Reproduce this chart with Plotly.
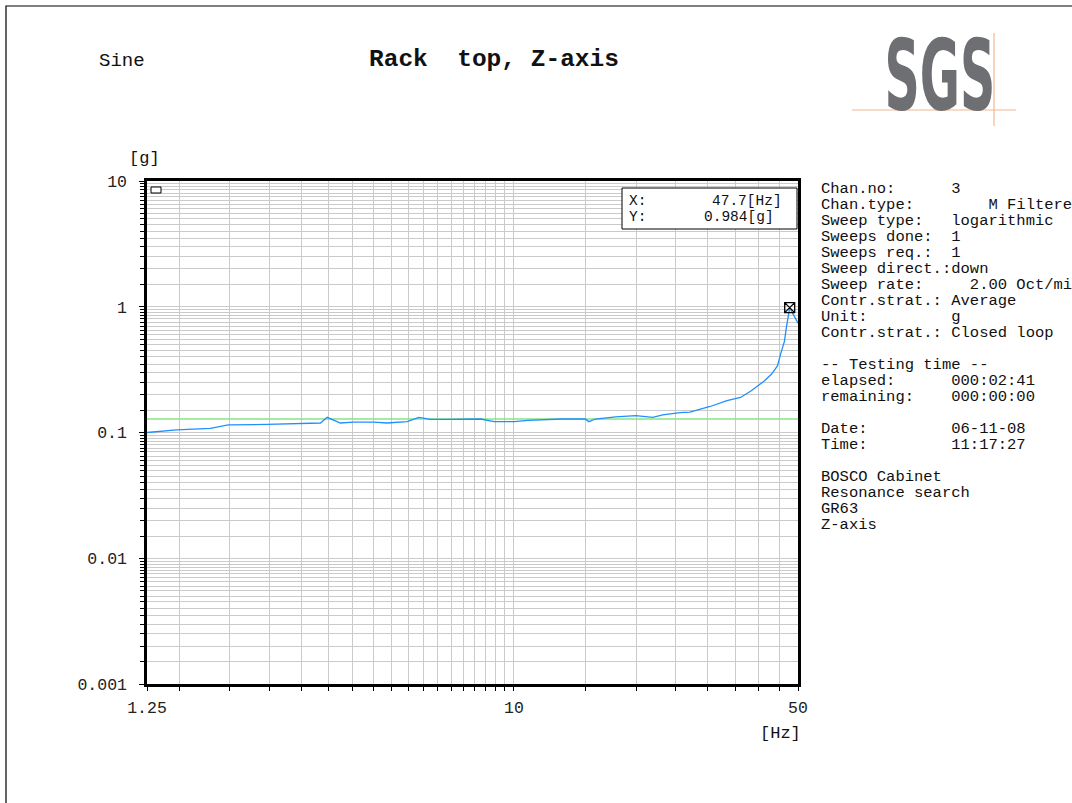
import plotly.graph_objects as go
import numpy as np

# ---------------- data ----------------
freq_hz = [1.25, 1.48, 1.79, 1.98, 2.47, 2.98, 3.34, 3.47, 3.74, 4.03, 4.52, 4.87,
           5.46, 5.83, 6.23, 6.85, 7.67, 8.27, 8.94, 10.03, 10.82, 13.1, 14.98,
           15.28, 15.86, 17.79, 19.94, 21.95, 23.24, 25.59, 27.1, 30.39, 33.43,
           36.09, 38.21, 41.23, 43.0, 44.5, 45.4, 46.3, 46.8, 47.7, 50.0]
accel_g = [0.100, 0.105, 0.108, 0.115, 0.116, 0.118, 0.119, 0.132, 0.119, 0.121,
           0.121, 0.119, 0.122, 0.132, 0.127, 0.127, 0.128, 0.128, 0.122, 0.122,
           0.125, 0.128, 0.128, 0.122, 0.128, 0.133, 0.136, 0.132, 0.138, 0.144,
           0.145, 0.161, 0.179, 0.190, 0.213, 0.256, 0.290, 0.338, 0.430, 0.530,
           0.680, 0.984, 0.740]
ref_freq = [1.25, 50.0]
ref_level = [0.128, 0.128]
cursor_freq = [47.7]
cursor_value = [0.984]

x_tickvals = [1.25, 10, 50]
x_ticktext = ["1.25", "10", "50"]
x_minor = [1.5, 2, 2.5, 3, 3.5, 4, 4.5, 5, 5.5, 6, 6.5, 7, 7.5, 8, 8.5, 9, 9.5,
           15, 20, 25, 30, 35, 40, 45]
y_tickvals = [0.001, 0.01, 0.1, 1, 10]
y_ticktext = ["0.001", "0.01", "0.1", "1", "10"]
y_minor_mult = [1.5, 2, 2.5, 3, 3.5, 4, 4.5, 5, 5.5, 6, 6.5, 7, 7.5, 8, 8.5, 9, 9.5]
y_minor = [d * m for d in [0.001, 0.01, 0.1, 1] for m in y_minor_mult]

info_lines = [
    ("Chan.no:", "3"),
    ("Chan.type:", "    M Filtered"),
    ("Sweep type:", "logarithmic"),
    ("Sweeps done:", "1"),
    ("Sweeps req.:", "1"),
    ("Sweep direct.:", "down"),
    ("Sweep rate:", "  2.00 Oct/min"),
    ("Contr.strat.:", "Average"),
    ("Unit:", "g"),
    ("Contr.strat.:", "Closed loop"),
    None,
    ("-- Testing time --", ""),
    ("elapsed:", "000:02:41"),
    ("remaining:", "000:00:00"),
    None,
    ("Date:", "06-11-08"),
    ("Time:", "11:17:27"),
    None,
    ("BOSCO Cabinet", ""),
    ("Resonance search", ""),
    ("GR63", ""),
    ("Z-axis", ""),
]

# ---------------- layout helpers ----------------
W, H = 1072, 803
L, R, T, B = 147, 798, 181, 684   # plot area in pixels
def px(x):
    return (x - L) / (R - L)
def py(y):
    return (B - y) / (B - T)

MONO = "Liberation Mono, Courier New, monospace"
NB = "\u00a0"

fig = go.Figure()
fig.add_trace(go.Scatter(x=ref_freq, y=ref_level, mode="lines",
                         line=dict(color="#86e486", width=1.6),
                         hoverinfo="skip", showlegend=False))
fig.add_trace(go.Scatter(x=freq_hz, y=accel_g, mode="lines",
                         line=dict(color="#1f8fff", width=1.3),
                         showlegend=False))
fig.add_trace(go.Scatter(x=cursor_freq, y=cursor_value, mode="markers",
                         marker=dict(symbol="square-x-open", size=10,
                                     color="black", line=dict(width=1.3)),
                         showlegend=False))

grid_col = "#cacaca"
fig.update_xaxes(type="log", range=[np.log10(1.25), np.log10(50)],
                 tickmode="array", tickvals=x_tickvals, ticktext=x_ticktext,
                 ticks="outside", ticklen=4, tickcolor="black",
                 showgrid=True, gridcolor=grid_col, gridwidth=1,
                 showline=True, linecolor="black", linewidth=2.5, mirror=True,
                 zeroline=False, ticklabelstandoff=2,
                 minor=dict(tickmode="array", tickvals=x_minor, ticks="outside",
                            ticklen=4, tickcolor="black", showgrid=True,
                            gridcolor=grid_col, gridwidth=1),
                 tickfont=dict(family=MONO, size=16.5, color="#222"))
fig.update_yaxes(type="log", range=[-3, 1],
                 tickmode="array", tickvals=y_tickvals, ticktext=y_ticktext,
                 ticks="outside", ticklen=5, tickcolor="black",
                 showgrid=True, gridcolor=grid_col, gridwidth=1,
                 showline=True, linecolor="black", linewidth=2.5, mirror=True,
                 zeroline=False, ticklabelstandoff=9,
                 minor=dict(tickmode="array", tickvals=y_minor, ticks="outside",
                            ticklen=4, tickcolor="black", showgrid=True,
                            gridcolor=grid_col, gridwidth=1),
                 tickfont=dict(family=MONO, size=16.5, color="#222"))

annots = []
def txt(x, y, s, size=15.5, anchor="left", bold=False, color="#111", family=MONO):
    annots.append(dict(x=px(x), y=py(y), xref="paper", yref="paper",
                       text=("<b>%s</b>" % s) if bold else s,
                       showarrow=False, xanchor=anchor, yanchor="middle",
                       font=dict(family=family, size=size, color=color)))

# header
txt(97, 61, "Sine", size=19)
txt(494, 60, "Rack" + NB * 2 + "top, Z-axis", size=24.5, anchor="center", bold=True)
txt(940, 76, "SGS", size=98, anchor="center", bold=True, color="#6e6f72",
    family="DejaVu Sans, Liberation Sans, sans-serif")

# axis units
txt(144, 158, "[g]", size=17, anchor="center")
txt(780, 733, "[Hz]", size=17, anchor="center")

# cursor box text
txt(627, 201, "X:", size=14.5)
txt(710, 201, "47.7[Hz]", size=14.5)
txt(627, 217, "Y:", size=14.5)
txt(702, 217, "0.984[g]", size=14.5)

# info panel
y0 = 189
for i, line in enumerate(info_lines):
    if line is None:
        continue
    k, v = line
    if v:
        s = k + NB * max(0, 14 - len(k)) + v
    else:
        s = k
    s = s.replace(" ", NB)
    txt(819, y0 + 16 * i, s, size=15.5)

shapes = [
    dict(type="rect", xref="paper", yref="paper", x0=px(622), x1=px(797),
         y0=py(188), y1=py(229), line=dict(color="black", width=1),
         fillcolor="white", layer="above"),
    dict(type="rect", xref="paper", yref="paper", x0=px(151), x1=px(161),
         y0=py(187), y1=py(193), line=dict(color="black", width=1),
         fillcolor="white", layer="above"),
    dict(type="rect", xref="paper", yref="paper", x0=px(6), x1=px(1090),
         y0=py(6), y1=py(820), line=dict(color="black", width=1.2)),
    dict(type="line", xref="paper", yref="paper", x0=px(852), x1=px(1016),
         y0=py(110), y1=py(110), line=dict(color="#f0b890", width=1.2)),
    dict(type="line", xref="paper", yref="paper", x0=px(994), x1=px(994),
         y0=py(33), y1=py(126), line=dict(color="#f0b890", width=1.2)),
]

fig.update_layout(width=W, height=H, autosize=False,
                  margin=dict(l=L, r=W - R, t=T, b=H - B, pad=0),
                  paper_bgcolor="white", plot_bgcolor="white",
                  annotations=annots, shapes=shapes, showlegend=False)

post = """
document.body.style.margin = '0';
document.body.style.overflow = 'hidden';
var gd = document.getElementById('{plot_id}');
function fixLogo(){
  gd.querySelectorAll('text.annotation-text').forEach(function(t){
    if (t.textContent === 'SGS') {
      t.style.transformBox = 'fill-box';
      t.style.transformOrigin = 'center';
      t.style.transform = 'scaleX(0.5)';
    }
  });
}
fixLogo();
if (gd.on) { gd.on('plotly_afterplot', fixLogo); }
"""

fig.write_html("out.html", post_script=post, config={"displayModeBar": False})
